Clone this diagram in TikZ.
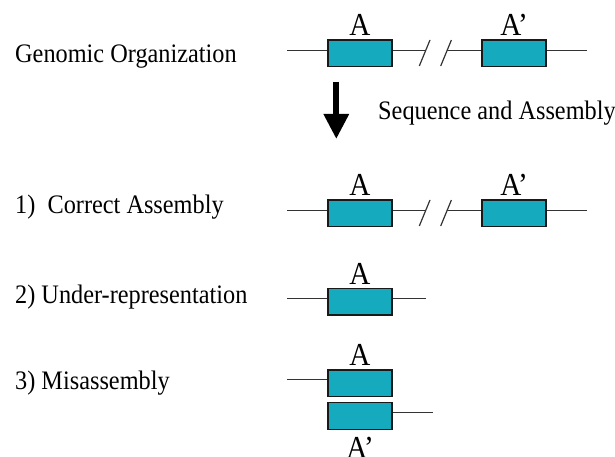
\documentclass[tikz,border=0pt]{standalone}
\usepackage{fontspec}
\setmainfont{Liberation Serif}[FakeStretch=0.91]
\usetikzlibrary{arrows.meta,positioning}
\definecolor{genecol}{RGB}{22,170,190}

\begin{document}
\begin{tikzpicture}[x=1pt,y=-1pt,node distance=3.3pt,
                    every node/.style={inner sep=0pt,font=\fontsize{26.7}{30}\selectfont}]
  \tikzstyle{gene}=[draw=black!90,fill=genecol,line width=1.2pt,minimum width=64pt,minimum height=26.7pt]
  \tikzstyle{genelabel}=[font=\fontsize{32}{36}\selectfont]
  \tikzstyle{dna}=[line width=1.2pt,black!80]
  \useasboundingbox (0,0) rectangle (615,457);

  % genomic organization
  \node[anchor=base west] (org) at (15,63) {Genomic Organization};
  \node[gene] (a0) at (360,53.3) {};
  \node[gene] (b0) at (514,53.3) {};
  \node[genelabel,above=of a0] {A};
  \node[genelabel,above=of b0] {A’};
  \coordinate (l0) at (287,50.7);
  \coordinate (r0) at (587,50.7);
  \coordinate (s0) at (425.6,50.7);
  \coordinate (t0) at (447,50.7);
  \draw[dna] (l0) -- (a0.west |- l0) (a0.east |- s0) -- (s0) (t0) -- (b0.west |- t0) (b0.east |- r0) -- (r0);
  \draw[dna] (s0) ++(-6.3,15.3) -- ++(10.7,-26) (t0) ++(-6.3,15.3) -- ++(10.7,-26);

  % sequencing step
  \coordinate (top) at (336.3,81.7);
  \coordinate (bot) at (336.3,139);
  \draw[-{Triangle[width=24pt,length=25pt]},line width=6pt] (top) -- (bot);
  \node[anchor=base west] (seq) at (378,120) {Sequence and Assembly};

  % 1) correct assembly
  \node[anchor=base west] (ok) at (15,213.3) {1)\ \ Correct Assembly};
  \node[gene] (a1) at (360,213.3) {};
  \node[gene] (b1) at (514,213.3) {};
  \node[genelabel,above=of a1] {A};
  \node[genelabel,above=of b1] {A’};
  \coordinate (l1) at (287,210.7);
  \coordinate (r1) at (587,210.7);
  \coordinate (s1) at (425.6,210.7);
  \coordinate (t1) at (447,210.7);
  \draw[dna] (l1) -- (a1.west |- l1) (a1.east |- s1) -- (s1) (t1) -- (b1.west |- t1) (b1.east |- r1) -- (r1);
  \draw[dna] (s1) ++(-6.3,15.3) -- ++(10.7,-26) (t1) ++(-6.3,15.3) -- ++(10.7,-26);

  % 2) under-representation
  \node[anchor=base west] (under) at (15,303) {2) Under-representation};
  \node[gene] (a2) at (360,301.7) {};
  \node[genelabel,above=of a2] {A};
  \coordinate (l2) at (287,298.3);
  \coordinate (r2) at (425.7,298.3);
  \draw[dna] (l2) -- (a2.west |- l2) (a2.east |- r2) -- (r2);

  % 3) misassembly
  \node[anchor=base west] (mis) at (15,389) {3) Misassembly};
  \node[gene] (a3) at (360,383.3) {};
  \node[gene,below=5pt of a3] (b3) {};
  \node[genelabel,above=of a3] {A};
  \node[genelabel,below=7pt of b3] {A’};
  \coordinate (l3) at (287,379.3);
  \coordinate (r3) at (432.7,412.3);
  \draw[dna] (l3) -- (a3.west |- l3) (b3.east |- r3) -- (r3);
\end{tikzpicture}
\end{document}
